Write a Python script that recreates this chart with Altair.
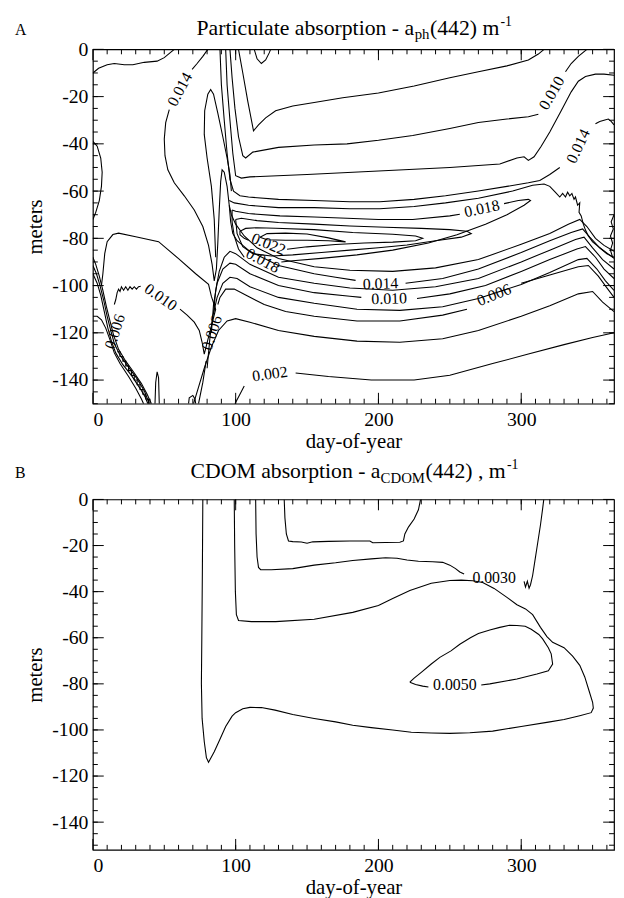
import altair as alt
import pandas as pd

SERIF = "Liberation Serif"

# ---------------- axis tick values ----------------
X_LABELS = [0, 100, 200, 300]
X_MINOR = list(range(10, 365, 10))
Y_LABELS = [0, -20, -40, -60, -80, -100, -120, -140]
Y_MINOR = list(range(-5, -155, -5))

# ---------------- Panel A : particulate absorption contours (day, depth) ----------------
a_top_left = [(0,-10),(4,-8),(10,-6.5),(15,-6),(22,-6.5),(28,-6.5),(36,-5.5),(45,-5),(50,-3.5),(54,-1.5),(57,0)]
a_left_bulge = [(0,-39),(3,-41),(5.5,-46),(6.5,-52),(6,-58),(4.5,-64),(2,-69),(0,-72)]
a_014_top = [(80.5,0),(77,-3),(73,-6),(69.5,-8.5)]
a_014_mid = [(53.5,-25.5),(51,-31),(50,-38),(50.5,-45),(52.5,-51),(57,-56.5),(64,-62),(71,-68),(77,-75),
             (81,-83),(83.5,-91),(85,-98),(86.5,-93),(87.5,-82),(88.5,-68),(89.5,-56),(90.5,-51),(92,-52),
             (94,-58),(95.5,-66),(96.5,-73),(98,-78),(101,-81),(110,-85.5),(130,-91.5),(155,-95),(170,-96.5),(184,-97.8)]
a_014_bot = [(219,-99),(245,-97),(270,-93),(300,-86),(320,-81),(335,-77.5),(343,-76),(348,-79.5),(355,-84),(365,-88.5)]
a_lobe = [(86,-88),(85,-72),(83,-58),(80,-46),(78,-36),(78.3,-26),(80.5,-19),(82.5,-17),(84.5,-19),(87.5,-27),
          (91,-37),(94,-46),(96,-53),(97,-60)]
a_u1 = [(102,0),(105,-10),(108.5,-22),(112.5,-34.5),(116,-32),(121,-29),(128,-26),(140,-24),(155,-22.5),(175,-20.5),
        (200,-18.5),(225,-15.5),(250,-12),(270,-9.5),(290,-7),(305,-4.5),(312,-2),(316,0)]
a_tiny = [(113,0),(115,-4),(118,-6),(121,-4.5),(123.5,-1.5),(124.5,0)]
a_u2_a = [(96,0),(97.5,-12),(99.5,-25),(102,-37),(105,-45),(107,-46),(112,-43.5),(130,-41.5),(155,-40.5),(178,-40),
          (200,-38.5),(224,-36.5),(250,-33.5),(270,-31),(290,-29.5),(305,-28.5),(312,-27.5)]
a_u2_b = [(331,-9.5),(335,-6),(340,-3),(346,0)]
a_u3 = [(93,0),(94,-15),(96,-30),(98,-44),(100,-53.5),(104,-54.5),(110,-54),(150,-53),(200,-51.5),(250,-50),(285,-48.5),
        (297,-46),(302,-45.5),(305,-47),(309,-45.5),(314,-41),(320,-35),(328,-26),(335,-18),(340,-13.5),(345,-11.5),
        (352,-10.5),(358,-10.5),(365,-11)]
a_t1_a = [(89,0),(90,-15),(92,-30),(94,-44),(96,-55),(98.5,-60),(103,-62),(109,-62.5),(130,-63.5),(155,-64),(180,-64.5),
          (201,-64.5),(225,-63.5),(247,-62),(270,-60),(290,-58),(305,-56.5),(313,-55.5),(320,-53),(327,-50)]
a_t1_b = [(352,-31.5),(355,-30.5),(358,-30),(361,-29.5),(363,-30.5),(365,-32)]
a_l16 = [(95.5,-64),(99,-65),(109,-66),(130,-67),(155,-67),(180,-67.5),(201,-67.5),(225,-66.5),(247,-65),(270,-63),
         (294,-60),(308,-57.5),(316,-57),(320,-58),(324,-60.5),(327,-62.5),(329,-61),(331,-62.5),(332.5,-60.5),(334,-62),
         (335.5,-61),(337,-63.5),(338,-62.5),(339.5,-66),(341,-65),(340.5,-69),(342,-70.5),(343.5,-74),(345,-76.5),
         (347,-79),(350,-81.5),(353,-83),(356,-84.5),(360,-86.5),(365,-88)]
a_l18_a = [(97.5,-68),(100,-68.5),(109,-69.5),(131,-70.5),(155,-71),(178,-71.5),(200,-72),(224,-72),(250,-70.5),(257,-69.8)]
a_l18_b = [(288,-65.3),(298,-64),(305,-63.5),(306.5,-64),(302,-66),(290,-70),(275,-74),(255,-78.5),(235,-82),(210,-85),
           (185,-87),(160,-88.5),(140,-89.5),(132,-90)]
a_l18_c = [(106,-88),(102,-84.5),(99,-79),(97.5,-73),(97.5,-68)]
a_l20 = [(100,-72),(104,-71.5),(115,-72.5),(130,-73.3),(155,-74),(180,-74.8),(205,-75.3),(230,-75.8),(250,-76.3),
         (262,-77),(265,-78),(258,-79.5),(240,-81),(220,-82.8),(200,-84),(180,-85),(160,-86),(140,-87),(125,-87.5),
         (112,-86.5),(105,-83.5),(101,-78),(100,-72)]
a_l22_a = [(136,-84.6),(150,-83.6),(170,-82.6),(190,-82),(210,-81.6),(226,-81),(231,-80),(226,-79),(210,-78.3),
           (182,-77.5),(155,-76.3),(128,-75.7),(115,-75.5),(107,-75.8),(103,-77),(103,-78.5),(106,-80),(109,-80.8)]
a_l24 = [(117,-79.5),(122,-78),(135,-77.8),(150,-78.2),(165,-79.8),(177,-81.5),(165,-81),(150,-80.8),(135,-80.8),
         (122,-80.6),(117,-79.5)]
a_b16 = [(95.5,-66),(97,-70),(100,-74),(106,-79),(115,-84),(130,-88.5),(155,-92),(180,-93.5),(210,-94),(240,-92.5),
         (270,-89),(300,-82.5),(320,-78),(333,-74),(341,-72),(346,-75),(352,-80),(358,-83),(365,-85.5)]
a_b12 = [(84.5,-112),(86,-102),(88.5,-94),(92,-88),(96,-85.5),(100,-86.5),(110,-91),(130,-96.5),(155,-99),(180,-101),
         (210,-102),(240,-100.5),(270,-97),(300,-90),(320,-85),(338,-80.5),(344,-79.5),(350,-84),(357,-89),(365,-93)]
a_b10_a = [(83,-120),(84.5,-108),(87,-99),(91,-93),(96,-90.5),(100,-91),(110,-95),(130,-100),(155,-103),(180,-104.5),(188,-105)]
a_b10_b = [(227,-105.5),(250,-103.5),(275,-100),(300,-94),(320,-89),(339,-84.5),(345,-83.5),(352,-88),(358,-93),(365,-97)]
a_b08 = [(80,-135),(82,-122),(84,-113),(87,-105),(91,-99),(96,-96.5),(101,-97),(110,-100.5),(130,-105),(155,-107.5),
         (185,-110),(215,-110.5),(245,-109),(270,-105.5),(300,-99.5),(320,-94.5),(340,-89),(346,-88.5),(353,-93),
         (359,-98),(365,-102)]
a_b06_a = [(74,-150),(77,-141),(79.3,-132)]
a_b06_b = [(87.5,-108),(89,-105),(93,-101.5),(99,-101.5),(107,-104),(120,-108),(135,-111),(155,-113),(185,-115),
           (215,-115),(245,-112.5),(262,-110)]
a_b06_c = [(300,-99),(320,-95.5),(340,-92),(347,-91.5),(354,-96),(360,-101),(365,-105)]
a_b04 = [(70.5,-150),(74,-143),(78,-135),(83,-126),(88,-119),(94,-115),(100,-114),(110,-115.5),(130,-119),(155,-121.5),
         (185,-123.5),(215,-124),(245,-122.5),(270,-119),(300,-113),(320,-108.5),(340,-103.5),(350,-102.5),(357,-107),(365,-111)]
a_b02_a = [(99.5,-150),(103,-146),(106,-142.5)]
a_b02_b = [(142,-137),(165,-138.5),(195,-140),(225,-140),(250,-138),(280,-133),(305,-129),(330,-125),(350,-122),(365,-120)]
a_hook = [(67,-150),(67.5,-147.5),(70,-146.5),(71.5,-148),(72,-150)]
a_c10_a = [(15,-108),(16,-106),(17,-103),(18,-101.5),(19,-102.5),(20,-100.5),(21.5,-102),(23,-100.5),(24.5,-102),
           (26,-100.5),(27.5,-101.5),(29,-100.5),(30.5,-101.5),(32,-100.5),(33.5,-100.3)]
a_c10_b = [(61,-110),(66,-112.5),(71,-115.5),(74.5,-119),(76.5,-124),(78,-129),(80.5,-123),(83.5,-116),(86,-110),
           (83,-104.6),(81,-99.5),(72,-95),(60,-88.6),(46,-81.4),(30,-79.3),(18,-77.8),(14,-78.4),(10,-81.4),
           (8.3,-86.5),(7,-95),(6,-100)]
a_bl1 = [(0,-88),(2,-91),(4.5,-96),(7,-102),(9.5,-109),(12,-115),(14.5,-121),(18,-127),(23,-132),(29,-137),(34,-141.5),(38,-146),(41,-150)]
a_bl2 = [(0,-91.5),(2.5,-95),(5,-100),(7.5,-106),(10,-113),(12.5,-119),(15,-124.5),(19,-129.5),(25,-134.5),(31,-139.5),(36,-144.5),(39.5,-150)]
a_bl3 = [(0,-95),(3,-99),(5.5,-104),(8,-111),(10.5,-118),(13,-123.5),(16,-128.5),(21,-133.5),(27,-138),(33,-143.5),(36.5,-147),(38.5,-150)]
a_bl4 = [(0,-113),(3,-113),(6,-114.5),(9,-118),(12,-123),(15,-128.5),(19,-133),(25,-138.5),(30,-143.5),(34,-148),(35.5,-150)]
a_stair = [(17,-128),(19,-128),(19,-130),(21,-130),(21,-132),(23,-132),(23,-134),(25,-134),(25,-136),(27,-136),(27,-138),
           (29,-138),(29,-140),(31,-140),(31,-142),(33,-142),(33,-144),(35,-144),(35,-146),(37,-146),(37,-148),(39,-148),(39,-150)]
a_spike = [(43.5,-150),(44,-141),(45,-136.5),(46,-139),(46.5,-150)]
a_jag_r = [(365,-70),(363,-73),(364.5,-76),(362.5,-79),(364,-82),(362.5,-85),(364,-88)]

A_SEGMENTS = [a_top_left, a_left_bulge, a_014_top, a_014_mid, a_014_bot, a_lobe, a_u1, a_tiny, a_u2_a, a_u2_b,
              a_u3, a_t1_a, a_t1_b, a_l16, a_l18_a, a_l18_b, a_l18_c, a_l20, a_l22_a, a_l24, a_b16, a_b12,
              a_b10_a, a_b10_b, a_b08, a_b06_a, a_b06_b, a_b06_c, a_b04, a_b02_a, a_b02_b, a_hook, a_c10_a,
              a_c10_b, a_bl1, a_bl2, a_bl3, a_bl4, a_stair, a_spike, a_jag_r]

# contour labels: text, day, depth, angle (deg)
A_LABEL_TEXT = ["0.014", "0.010", "0.014", "0.018", "0.022", "0.018", "0.014", "0.010", "0.006", "0.010",
                "0.006", "0.006", "0.002"]
A_LABEL_DAY = [61, 321.5, 340, 272.5, 123, 119, 201.5, 207.5, 281, 47.5, 83.5, 15.5, 124]
A_LABEL_DEPTH = [-17, -18.5, -41, -67.5, -82.5, -89.5, -99.3, -105.6, -104, -105, -120, -119.5, -137.5]
A_LABEL_ANGLE = [-62, -60, -65, -12, 22, 28, -2, -2, -22, 35, -72, -72, -8]

# ---------------- Panel B : CDOM absorption contours ----------------
b_outer = [(99,0),(99.3,-20),(99.8,-40),(100.5,-50),(102,-52.5),(111,-53),(128,-53),(155,-52),(182,-49),(200,-46),
           (210,-43),(222,-39.5),(237,-36.4),(250,-35.2),(258,-35),(266,-35.3),(273,-36),(281,-38.6),(290,-42.5),
           (297,-45.7),(303,-47.5),(308,-50),(313.5,-55.5),(318,-59.5),(322,-62),(330,-64.3),(336,-68),(341,-72),
           (344.5,-77),(347.5,-83),(350,-88),(350.5,-90.5),(349,-92.5),(341,-93.8),(330,-95.5),(319,-96.6),
           (300,-98.5),(280,-100.5),(264,-101.2),(250,-101.5),(237,-101.3),(223,-101),(210,-100),(195,-99),
           (182,-98),(170,-96.5),(155,-95),(140,-93.3),(127.6,-91.4),(118,-90.3),(110,-90.2),(105,-90.8),
           (100,-92.5),(97.5,-94),(93,-98.5),(89,-104),(85,-109.5),(81,-114),(79.5,-112),(78,-105),(76.5,-95),
           (76,-80),(76.3,-60),(76.7,-30),(77,0)]
b_0030_a = [(114,0),(114.3,-15),(115,-25),(116,-29.5),(117.5,-30.5),(125,-30.5),(140,-30),(155,-28.5),(170,-27.5),
            (182,-26.5),(195,-25.8),(205,-25.3),(213,-25.5),(220,-26.3),(228,-26.8),(238,-27),(245,-27.3),
            (250,-28.5),(254,-30),(257,-31.5),(260,-32.3)]
b_0030_b = [(302,-35.5),(303,-38),(304.3,-35.5),(305.5,-38.5),(306.5,-37),(308,-33),(309.5,-27),(311.5,-19),
            (313.5,-11),(315,-4),(315.8,0)]
b_top = [(134,0),(134.5,-8),(135.5,-15),(137,-18),(140,-18.3),(146,-18.5),(150,-19),(154,-18.4),(165,-18.2),
         (180,-18),(194,-18),(196,-18.8),(205,-18.7),(215,-18.6),(217.5,-18),(218.5,-15),(221,-12),(225,-8.5),
         (228,-4.5),(229.5,0)]
b_0050_a = [(222,-79.3),(226,-80.3),(231,-81),(235,-81.4)]
b_0050_b = [(272,-80.5),(278,-80),(297,-77.9),(311,-75.7),(319,-74.3),(322,-71.4),(321,-67),(319,-64.3),(315,-60.5),
            (312.3,-58.6),(307,-56.3),(302.8,-55),(297,-54.7),(291.8,-54.6),(285,-55.5),(278,-56.6),(270,-58.2),
            (264.4,-60),(257,-62.8),(250.8,-65.7),(243,-68.5),(237,-71.4),(230,-75),(225,-77.5),(222,-79.3)]

B_SEGMENTS = [b_outer, b_0030_a, b_0030_b, b_top, b_0050_a, b_0050_b]
B_LABEL_TEXT = ["0.0030", "0.0050"]
B_LABEL_DAY = [281, 253.5]
B_LABEL_DEPTH = [-34.3, -80.5]
B_LABEL_ANGLE = [0, 0]

TITLE_A = ["Particulate absorption - a", "ph", "(442) m", "-1"]
TITLE_B = ["CDOM absorption - a", "CDOM", "(442) , m", "-1"]


def segs_df(segs):
    rows = []
    for sid, pts in enumerate(segs):
        for k, (d, z) in enumerate(pts):
            rows.append({"seg": sid, "k": k, "day": d, "depth": z})
    return pd.DataFrame(rows)


def labels_df(texts, days, depths, angles):
    return pd.DataFrame({"txt": texts, "day": days, "depth": depths,
                         "ang": [a % 360 for a in angles]})


def build_panel(segs, lab, ydom, W, H, title_txt, title_x, letter, head_y):
    xs = alt.Scale(domain=[0, 365], nice=False, zero=False)
    ys = alt.Scale(domain=ydom, nice=False, zero=False)
    xenc = alt.X("day:Q", scale=xs, title="day-of-year",
                 axis=alt.Axis(values=X_LABELS, labelPadding=6, titlePadding=1))
    yenc = alt.Y("depth:Q", scale=ys, title="meters",
                 axis=alt.Axis(values=Y_LABELS, labelPadding=5, titlePadding=6,
                               labelExpr="datum.value == 0 ? '0' : '-' + format(abs(datum.value), 'd')"))
    layers = []
    layers.append(alt.Chart(segs_df(segs)).mark_line(color="black", strokeWidth=1.1, clip=True).encode(
        x=xenc, y=yenc, detail="seg:N", order="k:Q"))
    layers.append(alt.Chart(lab).mark_text(font=SERIF, fontSize=16, color="black").encode(
        x=xenc, y=yenc, text="txt:N", angle=alt.Angle("ang:Q", scale=None)))
    MAJ, MIN = 11, 5
    xmaj = pd.DataFrame({"day": X_LABELS})
    xmin = pd.DataFrame({"day": X_MINOR})
    ymaj = pd.DataFrame({"depth": Y_LABELS})
    ymin = pd.DataFrame({"depth": [v for v in Y_MINOR if v >= ydom[0]]})
    for df, ln in ((xmaj, MAJ), (xmin, MIN)):
        layers.append(alt.Chart(df).mark_rule(color="black", strokeWidth=1).encode(
            x=xenc, y=alt.value(H), y2=alt.value(H - ln)))
        layers.append(alt.Chart(df).mark_rule(color="black", strokeWidth=1).encode(
            x=xenc, y=alt.value(0), y2=alt.value(ln)))
    for df, ln in ((ymaj, MAJ), (ymin, MIN)):
        layers.append(alt.Chart(df).mark_rule(color="black", strokeWidth=1).encode(
            y=yenc, x=alt.value(0), x2=alt.value(ln)))
        layers.append(alt.Chart(df).mark_rule(color="black", strokeWidth=1).encode(
            y=yenc, x=alt.value(W), x2=alt.value(W - ln)))
    one = pd.DataFrame({"o": [1]})
    # panel letter
    layers.append(alt.Chart(one).mark_text(font=SERIF, fontSize=16, align="left", baseline="alphabetic",
                                           color="black").encode(
        x=alt.value(-79), y=alt.value(head_y), text=alt.value(letter)))
    # title pieces: main, subscript, main, superscript
    sizes = [22, 15, 22, 14]
    dys = [0, 5, 0, -9]
    for txt, px, fs, dy in zip(title_txt, title_x, sizes, dys):
        layers.append(alt.Chart(one).mark_text(font=SERIF, fontSize=fs, align="left", baseline="alphabetic",
                                               color="black").encode(
            x=alt.value(px), y=alt.value(head_y + dy), text=alt.value(txt)))
    return alt.layer(*layers).properties(width=W, height=H)


W = 528
panel_a = build_panel(A_SEGMENTS, labels_df(A_LABEL_TEXT, A_LABEL_DAY, A_LABEL_DEPTH, A_LABEL_ANGLE),
                      [-150, 0], W, 359, TITLE_A, [105, 326, 341.5, 413], "A", -15)
panel_b = build_panel(B_SEGMENTS, labels_df(B_LABEL_TEXT, B_LABEL_DAY, B_LABEL_DEPTH, B_LABEL_ANGLE),
                      [-152, 0], W, 355, TITLE_B, [99, 291.5, 337, 419.5], "B", -22)

chart = alt.vconcat(panel_a, panel_b, spacing=97, bounds="flush").properties(
    padding={"left": 6, "top": 0, "right": 0, "bottom": 0}
).configure_view(stroke="black", strokeWidth=1.2).configure_axis(
    domain=False, ticks=False, grid=False, labelFont=SERIF, labelFontSize=20, labelColor="black",
    titleFont=SERIF, titleFontSize=21, titleFontWeight="normal", titleColor="black"
)

chart.save("out.html", embed_options={"renderer": "svg", "actions": False})
